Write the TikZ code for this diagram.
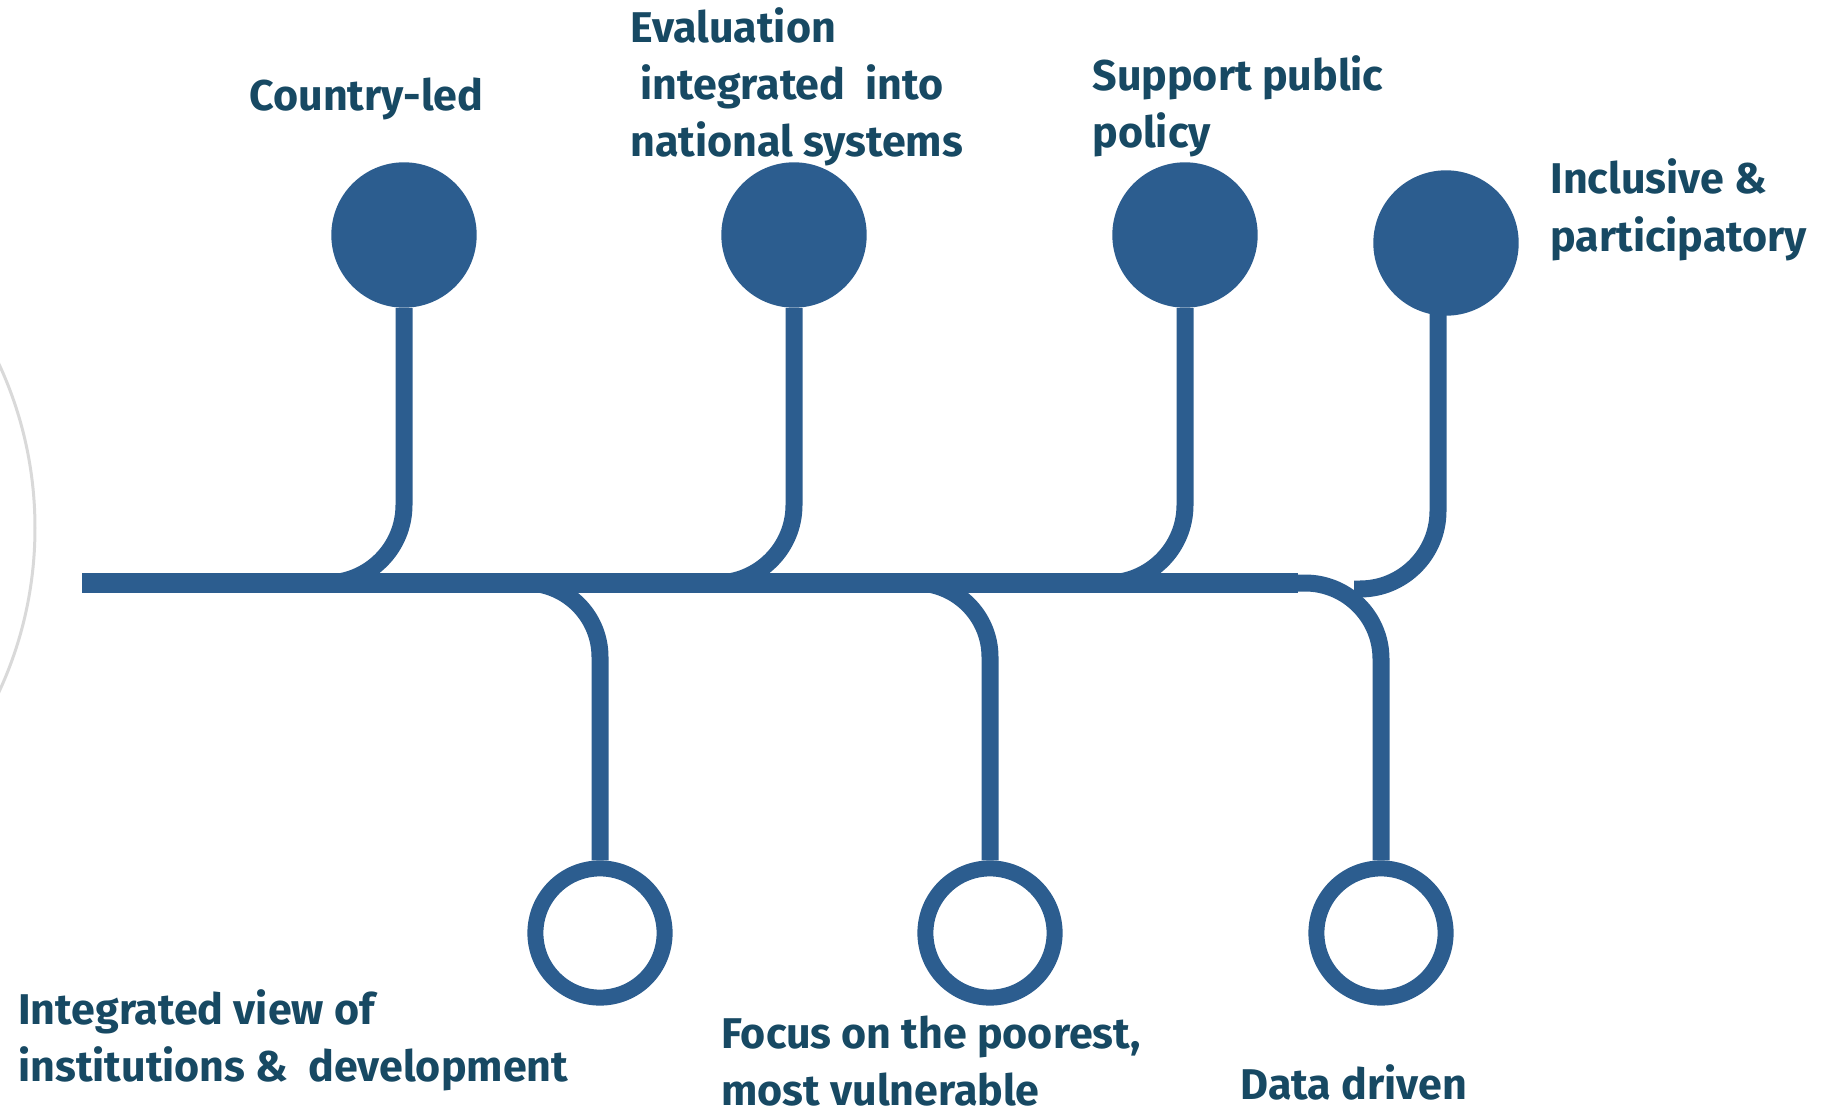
\documentclass[tikz,border=0pt]{standalone}
\usepackage{fontspec}
\setmainfont{Fira Sans}
\definecolor{pathblue}{RGB}{44,93,143}
\definecolor{labelblue}{RGB}{23,73,99}
\begin{document}
\begin{tikzpicture}[x=0.5pt,y=-0.5pt,
  spine/.style={draw,color=pathblue,line width=10pt},
  branch/.style={draw,color=pathblue,line width=8.5pt,rounded corners=39pt},
  dot/.style={circle,fill=pathblue,inner sep=0pt,minimum size=72.7pt},
  ring/.style={circle,draw=pathblue,fill=white,line width=8pt,inner sep=0pt,minimum size=64.6pt},
  label/.style={color=labelblue,font=\bfseries\fontsize{21.5}{28.5}\selectfont,align=left,anchor=base west,inner sep=0pt}]
\useasboundingbox (0,0) rectangle (1830,1107);
\draw[color=black!15,line width=1.5pt] (-355,528) circle (390);
\coordinate (s) at (82,583);
\coordinate (e) at (1298,583);
\coordinate (j1) at (254,583);
\coordinate (j2) at (644,583);
\coordinate (j3) at (1035,583);
\coordinate (j4) at (1354,589);
\coordinate (k1) at (500,583);
\coordinate (k2) at (890,583);
\path[spine] (s) -- (e);
\node[dot] (1) at (404,235) {};
\node[dot] (2) at (794,235) {};
\node[dot] (3) at (1185,235) {};
\node[dot] (4) at (1446,243) {};
\path[branch] (1.south) |- (j1);
\path[branch] (2.south) |- (j2);
\path[branch] (3.south) |- (j3);
\path[branch] (1438,300) |- (j4);
\node[ring] (5) at (600,933) {};
\node[ring] (6) at (990,933) {};
\node[ring] (7) at (1381,933) {};
\path[branch,rounded corners=37pt] (k1) -| (5.north);
\path[branch,rounded corners=37pt] (k2) -| (6.north);
\path[branch,rounded corners=38pt] (e) -| (7.north);

% labels, placed by the baseline of their last line
\node[label] (a) at (249,111) {Country-led};
\node[label] (b) at (630,157) {Evaluation\\\ integrated\ \ into\\national systems};
\node[label] (c) at (1092,148) {Support public\\policy};
\node[label] (d) at (1550,251) {Inclusive \&\\participatory};
\node[label] (f) at (18,1081) {Integrated view of\\institutions \&\ \ development};
\node[label] (g) at (721,1105) {Focus on the poorest,\\most vulnerable};
\node[label] (h) at (1240,1099) {Data driven};
\end{tikzpicture}
\end{document}
